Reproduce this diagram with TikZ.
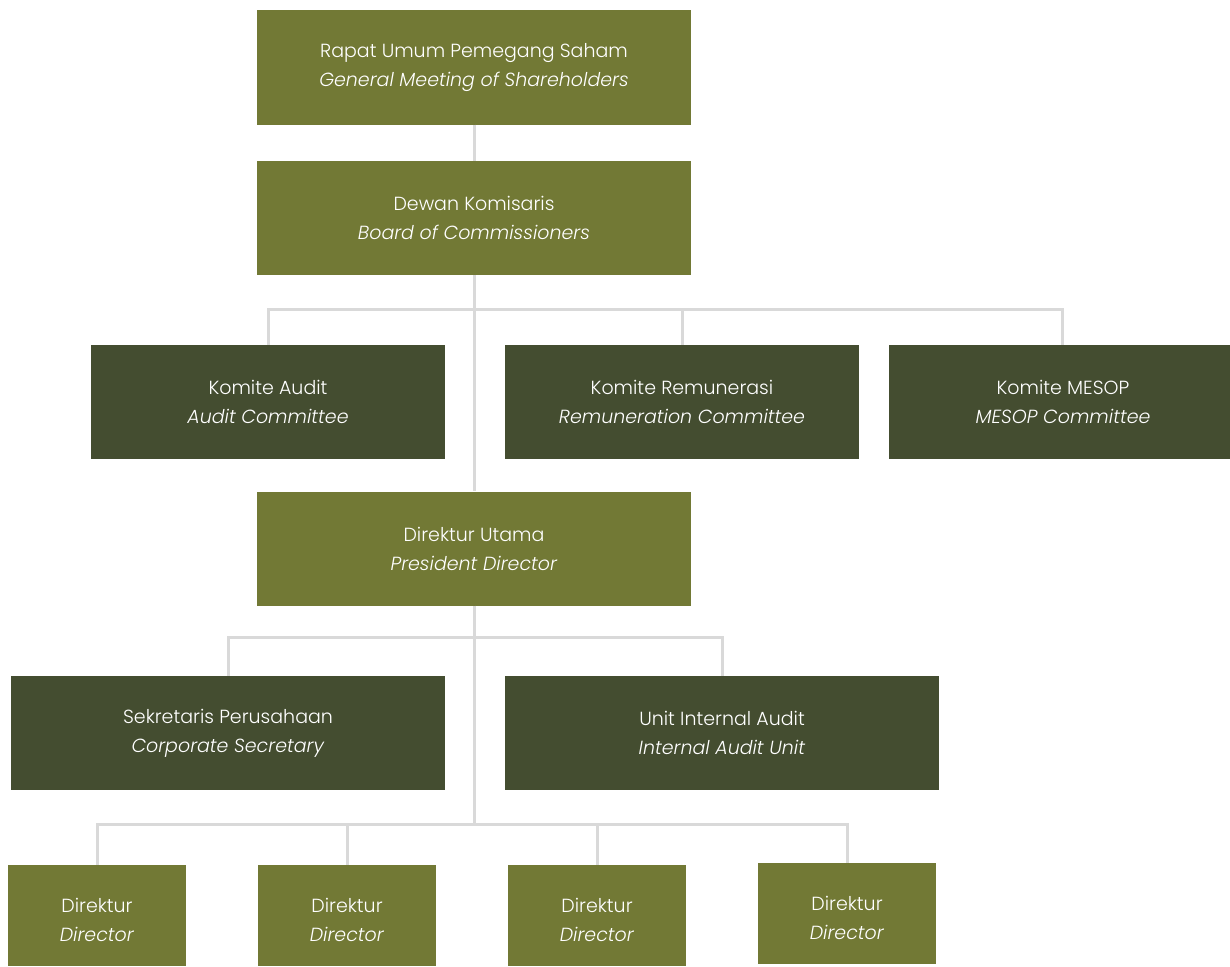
\documentclass[tikz,border=0pt]{standalone}
\usepackage{fontspec}
\IfFontExistsTF{Poppins Light}{\setmainfont{Poppins Light}[ItalicFont={Poppins Light Italic}]}{\setmainfont{Poppins}}
\definecolor{olive}{HTML}{727935}
\definecolor{darkolive}{HTML}{444D30}
\definecolor{linegray}{HTML}{D9D9D9}
\begin{document}
\begin{tikzpicture}[x=1pt,y=-1pt,
  box/.style={fill=olive,text=white,inner sep=0pt,align=center,font=\fontsize{19}{29}\selectfont},
  dbox/.style={box,fill=darkolive},
  dirbox/.style={box,minimum width=178pt,minimum height=101pt},
  conn/.style={draw=linegray,line width=3pt}]
\useasboundingbox (0,0) rectangle (1230,966);
\newcommand{\bx}[7]{\node[#1,minimum width=#4pt,minimum height=#5pt] (#2) at (#3) {#6\\\textit{#7}};}
\newcommand{\dirtext}{\rule{0pt}{24pt}Direktur\\\textit{Director}}
\bx{box}{rups}{474,67.5}{434}{114}{Rapat Umum Pemegang Saham}{General Meeting of Shareholders}
\bx{box}{dk}{474,218}{434}{114}{Dewan Komisaris}{Board of Commissioners}
\bx{dbox}{ka}{268,402}{354}{114}{Komite Audit}{Audit Committee}
\bx{dbox}{kr}{682,402}{354}{114}{Komite Remunerasi}{Remuneration Committee}
\bx{dbox}{km}{1063,402}{348}{114}{Komite MESOP}{MESOP Committee}
\bx{box}{du}{474,548.5}{434}{114}{Direktur Utama}{President Director}
\bx{dbox}{sp}{228,733}{434}{114}{Sekretaris Perusahaan}{Corporate Secretary}
\bx{dbox}{uia}{722,733}{434}{114}{Unit Internal Audit}{Internal Audit Unit}
\node[dirbox] (d1) at (97,915.5) {\dirtext};
\node[dirbox] (d2) at (347,915.5) {\dirtext};
\node[dirbox] (d3) at (597,915.5) {\dirtext};
\node[dirbox] (d4) at (847,913.5) {\dirtext};
\coordinate (j1) at (474,309);
\coordinate (j2) at (474,637);
\coordinate (j3) at (474,824);
\coordinate (kmtop) at ([xshift=-1pt]km.north);
\begin{scope}[on background layer/.try]
\draw[conn] (rups.south) -- (dk.north);
\draw[conn] (dk.south) -- (du.north);
\draw[conn] (du.south) -- (j3);
\draw[conn] (ka.north) |- (j1) -| (kmtop);
\draw[conn] (kr.north) -- (kr.north |- j1);
\draw[conn] (sp.north) |- (j2) -| (uia.north);
\draw[conn] (d1.north) |- (j3) -| (d4.north);
\draw[conn] (d2.north) -- (d2.north |- j3);
\draw[conn] (d3.north) -- (d3.north |- j3);
\end{scope}
\end{tikzpicture}
\end{document}
